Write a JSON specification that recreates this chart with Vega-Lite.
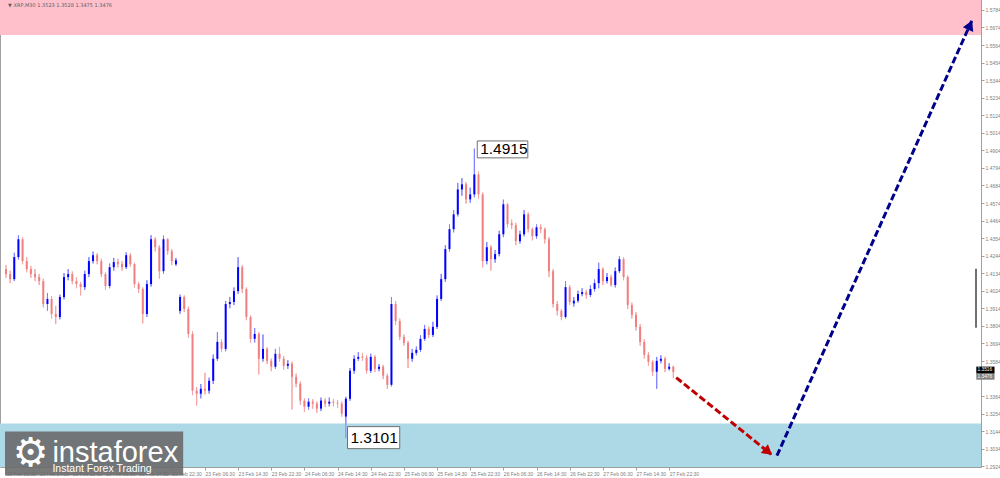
{
"$schema":"https://vega.github.io/schema/vega-lite/v6.json",
"width":981,"height":467,"padding":0,"autosize":{"type":"pad"},"background":"white",
"config":{"view":{"stroke":"#a0a0a0","strokeWidth":1},"font":"Liberation Sans","axis":{"grid":false,"title":null,"labelOverlap":false}},
"datasets":{"candles":[
{"i":0,"o":1.4160,"h":1.4185,"l":1.4105,"c":1.4129},
{"i":1,"o":1.4129,"h":1.4150,"l":1.4072,"c":1.4097},
{"i":2,"o":1.4097,"h":1.4262,"l":1.4085,"c":1.4235},
{"i":3,"o":1.4235,"h":1.4372,"l":1.4220,"c":1.4347},
{"i":4,"o":1.4347,"h":1.4360,"l":1.4190,"c":1.4210},
{"i":5,"o":1.4210,"h":1.4235,"l":1.4140,"c":1.4160},
{"i":6,"o":1.4160,"h":1.4180,"l":1.4105,"c":1.4129},
{"i":7,"o":1.4129,"h":1.4160,"l":1.4085,"c":1.4110},
{"i":8,"o":1.4110,"h":1.4130,"l":1.4060,"c":1.4085},
{"i":9,"o":1.4085,"h":1.4100,"l":1.3920,"c":1.3941},
{"i":10,"o":1.3941,"h":1.4010,"l":1.3900,"c":1.3973},
{"i":11,"o":1.3973,"h":1.3990,"l":1.3850,"c":1.3879},
{"i":12,"o":1.3879,"h":1.3930,"l":1.3815,"c":1.3860},
{"i":13,"o":1.3860,"h":1.4000,"l":1.3845,"c":1.3985},
{"i":14,"o":1.3985,"h":1.4135,"l":1.3970,"c":1.4110},
{"i":15,"o":1.4110,"h":1.4160,"l":1.4090,"c":1.4129},
{"i":16,"o":1.4129,"h":1.4145,"l":1.4065,"c":1.4085},
{"i":17,"o":1.4085,"h":1.4110,"l":1.4040,"c":1.4066},
{"i":18,"o":1.4066,"h":1.4080,"l":1.3995,"c":1.4047},
{"i":19,"o":1.4047,"h":1.4150,"l":1.4030,"c":1.4129},
{"i":20,"o":1.4129,"h":1.4235,"l":1.4110,"c":1.4210},
{"i":21,"o":1.4210,"h":1.4270,"l":1.4195,"c":1.4247},
{"i":22,"o":1.4247,"h":1.4260,"l":1.4190,"c":1.4210},
{"i":23,"o":1.4210,"h":1.4225,"l":1.4110,"c":1.4129},
{"i":24,"o":1.4129,"h":1.4140,"l":1.4030,"c":1.4054},
{"i":25,"o":1.4054,"h":1.4195,"l":1.4040,"c":1.4172},
{"i":26,"o":1.4172,"h":1.4230,"l":1.4150,"c":1.4204},
{"i":27,"o":1.4204,"h":1.4225,"l":1.4170,"c":1.4191},
{"i":28,"o":1.4191,"h":1.4210,"l":1.4150,"c":1.4172},
{"i":29,"o":1.4172,"h":1.4265,"l":1.4160,"c":1.4247},
{"i":30,"o":1.4247,"h":1.4260,"l":1.4175,"c":1.4191},
{"i":31,"o":1.4191,"h":1.4200,"l":1.4045,"c":1.4066},
{"i":32,"o":1.4066,"h":1.4080,"l":1.4010,"c":1.4035},
{"i":33,"o":1.4035,"h":1.4045,"l":1.3820,"c":1.3879},
{"i":34,"o":1.3879,"h":1.4090,"l":1.3860,"c":1.4066},
{"i":35,"o":1.4066,"h":1.4372,"l":1.4050,"c":1.4347},
{"i":36,"o":1.4347,"h":1.4360,"l":1.4270,"c":1.4297},
{"i":37,"o":1.4297,"h":1.4310,"l":1.4100,"c":1.4147},
{"i":38,"o":1.4147,"h":1.4370,"l":1.4130,"c":1.4347},
{"i":39,"o":1.4347,"h":1.4355,"l":1.4250,"c":1.4272},
{"i":40,"o":1.4272,"h":1.4285,"l":1.4185,"c":1.4210},
{"i":41,"o":1.4190,"h":1.4230,"l":1.4180,"c":1.4215},
{"i":42,"o":1.3898,"h":1.4000,"l":1.3880,"c":1.3985},
{"i":43,"o":1.3985,"h":1.3995,"l":1.3890,"c":1.3910},
{"i":44,"o":1.3910,"h":1.3925,"l":1.3730,"c":1.3754},
{"i":45,"o":1.3754,"h":1.3770,"l":1.3370,"c":1.3398},
{"i":46,"o":1.3398,"h":1.3420,"l":1.3305,"c":1.3379},
{"i":47,"o":1.3379,"h":1.3440,"l":1.3350,"c":1.3410},
{"i":48,"o":1.3410,"h":1.3510,"l":1.3375,"c":1.3398},
{"i":49,"o":1.3398,"h":1.3480,"l":1.3380,"c":1.3460},
{"i":50,"o":1.3460,"h":1.3625,"l":1.3440,"c":1.3598},
{"i":51,"o":1.3598,"h":1.3765,"l":1.3585,"c":1.3704},
{"i":52,"o":1.3704,"h":1.3720,"l":1.3640,"c":1.3660},
{"i":53,"o":1.3660,"h":1.3960,"l":1.3645,"c":1.3941},
{"i":54,"o":1.3941,"h":1.3985,"l":1.3915,"c":1.3954},
{"i":55,"o":1.3954,"h":1.4045,"l":1.3935,"c":1.4022},
{"i":56,"o":1.4022,"h":1.4235,"l":1.4005,"c":1.4172},
{"i":57,"o":1.4172,"h":1.4185,"l":1.4010,"c":1.4035},
{"i":58,"o":1.4035,"h":1.4045,"l":1.3840,"c":1.3860},
{"i":59,"o":1.3860,"h":1.3870,"l":1.3700,"c":1.3723},
{"i":60,"o":1.3723,"h":1.3790,"l":1.3700,"c":1.3754},
{"i":61,"o":1.3754,"h":1.3765,"l":1.3500,"c":1.3598},
{"i":62,"o":1.3598,"h":1.3750,"l":1.3580,"c":1.3660},
{"i":63,"o":1.3660,"h":1.3670,"l":1.3565,"c":1.3585},
{"i":64,"o":1.3585,"h":1.3600,"l":1.3520,"c":1.3548},
{"i":65,"o":1.3548,"h":1.3660,"l":1.3535,"c":1.3629},
{"i":66,"o":1.3629,"h":1.3673,"l":1.3580,"c":1.3598},
{"i":67,"o":1.3598,"h":1.3615,"l":1.3530,"c":1.3554},
{"i":68,"o":1.3554,"h":1.3590,"l":1.3535,"c":1.3567},
{"i":69,"o":1.3567,"h":1.3580,"l":1.3280,"c":1.3485},
{"i":70,"o":1.3485,"h":1.3505,"l":1.3420,"c":1.3442},
{"i":71,"o":1.3442,"h":1.3455,"l":1.3310,"c":1.3336},
{"i":72,"o":1.3336,"h":1.3350,"l":1.3265,"c":1.3298},
{"i":73,"o":1.3298,"h":1.3350,"l":1.3280,"c":1.3329},
{"i":74,"o":1.3329,"h":1.3345,"l":1.3285,"c":1.3317},
{"i":75,"o":1.3317,"h":1.3330,"l":1.3260,"c":1.3286},
{"i":76,"o":1.3286,"h":1.3355,"l":1.3270,"c":1.3336},
{"i":77,"o":1.3336,"h":1.3350,"l":1.3295,"c":1.3317},
{"i":78,"o":1.3317,"h":1.3355,"l":1.3300,"c":1.3329},
{"i":79,"o":1.3329,"h":1.3345,"l":1.3300,"c":1.3323},
{"i":80,"o":1.3323,"h":1.3340,"l":1.3290,"c":1.3317},
{"i":81,"o":1.3317,"h":1.3330,"l":1.3235,"c":1.3254},
{"i":82,"o":1.3236,"h":1.3360,"l":1.3101,"c":1.3348},
{"i":83,"o":1.3348,"h":1.3540,"l":1.3335,"c":1.3523},
{"i":84,"o":1.3523,"h":1.3620,"l":1.3505,"c":1.3598},
{"i":85,"o":1.3598,"h":1.3640,"l":1.3585,"c":1.3610},
{"i":86,"o":1.3612,"h":1.3635,"l":1.3585,"c":1.3605},
{"i":87,"o":1.3605,"h":1.3620,"l":1.3505,"c":1.3523},
{"i":88,"o":1.3523,"h":1.3630,"l":1.3510,"c":1.3610},
{"i":89,"o":1.3610,"h":1.3620,"l":1.3515,"c":1.3535},
{"i":90,"o":1.3535,"h":1.3565,"l":1.3520,"c":1.3548},
{"i":91,"o":1.3548,"h":1.3560,"l":1.3470,"c":1.3492},
{"i":92,"o":1.3492,"h":1.3505,"l":1.3410,"c":1.3435},
{"i":93,"o":1.3435,"h":1.3985,"l":1.3425,"c":1.3941},
{"i":94,"o":1.3941,"h":1.3960,"l":1.3810,"c":1.3835},
{"i":95,"o":1.3835,"h":1.3850,"l":1.3715,"c":1.3735},
{"i":96,"o":1.3735,"h":1.3750,"l":1.3680,"c":1.3698},
{"i":97,"o":1.3698,"h":1.3710,"l":1.3540,"c":1.3598},
{"i":98,"o":1.3598,"h":1.3660,"l":1.3580,"c":1.3635},
{"i":99,"o":1.3635,"h":1.3675,"l":1.3620,"c":1.3654},
{"i":100,"o":1.3654,"h":1.3745,"l":1.3640,"c":1.3723},
{"i":101,"o":1.3723,"h":1.3810,"l":1.3710,"c":1.3785},
{"i":102,"o":1.3785,"h":1.3800,"l":1.3730,"c":1.3748},
{"i":103,"o":1.3748,"h":1.3830,"l":1.3735,"c":1.3798},
{"i":104,"o":1.3798,"h":1.3995,"l":1.3785,"c":1.3973},
{"i":105,"o":1.3973,"h":1.4130,"l":1.3960,"c":1.4097},
{"i":106,"o":1.4097,"h":1.4310,"l":1.4080,"c":1.4285},
{"i":107,"o":1.4285,"h":1.4440,"l":1.4270,"c":1.4410},
{"i":108,"o":1.4410,"h":1.4530,"l":1.4390,"c":1.4503},
{"i":109,"o":1.4503,"h":1.4700,"l":1.4490,"c":1.4659},
{"i":110,"o":1.4659,"h":1.4730,"l":1.4620,"c":1.4691},
{"i":111,"o":1.4691,"h":1.4705,"l":1.4570,"c":1.4597},
{"i":112,"o":1.4597,"h":1.4670,"l":1.4575,"c":1.4628},
{"i":113,"o":1.4628,"h":1.4915,"l":1.4610,"c":1.4753},
{"i":114,"o":1.4753,"h":1.4770,"l":1.4600,"c":1.4628},
{"i":115,"o":1.4628,"h":1.4640,"l":1.4170,"c":1.4210},
{"i":116,"o":1.4210,"h":1.4330,"l":1.4190,"c":1.4297},
{"i":117,"o":1.4297,"h":1.4310,"l":1.4150,"c":1.4222},
{"i":118,"o":1.4222,"h":1.4280,"l":1.4200,"c":1.4254},
{"i":119,"o":1.4254,"h":1.4400,"l":1.4240,"c":1.4378},
{"i":120,"o":1.4378,"h":1.4595,"l":1.4360,"c":1.4566},
{"i":121,"o":1.4566,"h":1.4575,"l":1.4420,"c":1.4441},
{"i":122,"o":1.4448,"h":1.4470,"l":1.4410,"c":1.4435},
{"i":123,"o":1.4435,"h":1.4450,"l":1.4310,"c":1.4335},
{"i":124,"o":1.4335,"h":1.4400,"l":1.4320,"c":1.4378},
{"i":125,"o":1.4378,"h":1.4530,"l":1.4365,"c":1.4503},
{"i":126,"o":1.4503,"h":1.4515,"l":1.4390,"c":1.4410},
{"i":127,"o":1.4410,"h":1.4420,"l":1.4340,"c":1.4366},
{"i":128,"o":1.4366,"h":1.4440,"l":1.4350,"c":1.4422},
{"i":129,"o":1.4422,"h":1.4440,"l":1.4385,"c":1.4410},
{"i":130,"o":1.4410,"h":1.4420,"l":1.4320,"c":1.4347},
{"i":131,"o":1.4347,"h":1.4360,"l":1.4110,"c":1.4147},
{"i":132,"o":1.4147,"h":1.4160,"l":1.3920,"c":1.3941},
{"i":133,"o":1.3941,"h":1.3960,"l":1.3870,"c":1.3898},
{"i":134,"o":1.3898,"h":1.3910,"l":1.3840,"c":1.3860},
{"i":135,"o":1.3860,"h":1.4085,"l":1.3850,"c":1.4047},
{"i":136,"o":1.4047,"h":1.4060,"l":1.3935,"c":1.3954},
{"i":137,"o":1.3945,"h":1.3985,"l":1.3925,"c":1.3962},
{"i":138,"o":1.3962,"h":1.4025,"l":1.3950,"c":1.4004},
{"i":139,"o":1.4004,"h":1.4040,"l":1.3990,"c":1.4016},
{"i":140,"o":1.4016,"h":1.4030,"l":1.3975,"c":1.3998},
{"i":141,"o":1.3998,"h":1.4060,"l":1.3985,"c":1.4035},
{"i":142,"o":1.4035,"h":1.4095,"l":1.4020,"c":1.4072},
{"i":143,"o":1.4072,"h":1.4200,"l":1.4040,"c":1.4160},
{"i":144,"o":1.4160,"h":1.4170,"l":1.4060,"c":1.4085},
{"i":145,"o":1.4085,"h":1.4135,"l":1.4070,"c":1.4110},
{"i":146,"o":1.4110,"h":1.4125,"l":1.4050,"c":1.4060},
{"i":147,"o":1.4060,"h":1.4170,"l":1.4045,"c":1.4147},
{"i":148,"o":1.4147,"h":1.4240,"l":1.4135,"c":1.4222},
{"i":149,"o":1.4222,"h":1.4235,"l":1.4090,"c":1.4110},
{"i":150,"o":1.4110,"h":1.4120,"l":1.3910,"c":1.3935},
{"i":151,"o":1.3935,"h":1.3950,"l":1.3850,"c":1.3873},
{"i":152,"o":1.3873,"h":1.3890,"l":1.3775,"c":1.3798},
{"i":153,"o":1.3798,"h":1.3815,"l":1.3680,"c":1.3704},
{"i":154,"o":1.3704,"h":1.3720,"l":1.3600,"c":1.3623},
{"i":155,"o":1.3623,"h":1.3640,"l":1.3555,"c":1.3579},
{"i":156,"o":1.3579,"h":1.3590,"l":1.3490,"c":1.3517},
{"i":157,"o":1.3517,"h":1.3610,"l":1.3410,"c":1.3585},
{"i":158,"o":1.3585,"h":1.3620,"l":1.3570,"c":1.3598},
{"i":159,"o":1.3598,"h":1.3610,"l":1.3515,"c":1.3535},
{"i":160,"o":1.3535,"h":1.3570,"l":1.3525,"c":1.3548},
{"i":161,"o":1.3548,"h":1.3555,"l":1.3476,"c":1.3516}
]},
"layer":[
{"data":{"name":"candles"},"mark":{"type":"rule","strokeWidth":1},
 "encoding":{
  "x":{"field":"i","type":"quantitative","title":null,"scale":{"domain":[-0.24,234.03],"nice":false,"zero":false},
   "axis":{"orient":"bottom","tickCount":40,"values":[0,8,16,24,32,40,48,56,64,72,80,88,96,104,112,120,128,136,144,152,160],
    "labelExpr":"['19 Feb 06:30','19 Feb 14:30','19 Feb 22:30','20 Feb 06:30','20 Feb 14:30','20 Feb 22:30','23 Feb 06:30','23 Feb 14:30','23 Feb 22:30','24 Feb 06:30','24 Feb 14:30','24 Feb 22:30','25 Feb 06:30','25 Feb 14:30','25 Feb 22:30','26 Feb 06:30','26 Feb 14:30','26 Feb 22:30','27 Feb 06:30','27 Feb 14:30','27 Feb 22:30'][round(datum.value/8)]",
    "labelAlign":"left","labelFontSize":5,"labelColor":"#808080","labelPadding":1,"tickSize":3,"tickColor":"#a0a0a0","domain":false,"grid":false,"labelOverlap":false,"labelFlush":false,"labelBound":false}},
  "y":{"field":"l","type":"quantitative","title":null,"scale":{"domain":[1.292,1.5846],"nice":false,"zero":false},
   "axis":{"orient":"right","tickCount":40,"values":[1.2924,1.3034,1.3144,1.3254,1.3364,1.3584,1.3694,1.3804,1.3914,1.4024,1.4134,1.4244,1.4354,1.4464,1.4574,1.4684,1.4794,1.4904,1.5014,1.5124,1.5234,1.5344,1.5454,1.5564,1.5674,1.5784],
    "format":".4f","labelFontSize":5,"labelColor":"#808080","labelPadding":1,"tickSize":3,"tickColor":"#a0a0a0","domainColor":"#a0a0a0","grid":false,"labelOverlap":false,"labelFlush":false,"labelBound":false,"labelBaseline":"middle"}},
  "y2":{"field":"h"},
  "color":{"condition":{"test":"datum.c >= datum.o","value":"#8080ff"},"value":"#f4a4a4"}}},
{"data":{"values":[{"p1":1.5627,"p2":1.5846}]},"mark":{"type":"rect","color":"#ffc0cb"},
 "encoding":{"y":{"field":"p1","type":"quantitative","title":null},"y2":{"field":"p2"}}},
{"data":{"values":[{"p1":1.292,"p2":1.3192}]},"mark":{"type":"rect","color":"#add8e6"},
 "encoding":{"y":{"field":"p1","type":"quantitative","title":null},"y2":{"field":"p2"}}},
{"data":{"name":"candles"},"mark":{"type":"rule","strokeWidth":1},
 "encoding":{
  "x":{"field":"i","type":"quantitative","title":null},
  "y":{"field":"l","type":"quantitative","title":null},
  "y2":{"field":"h"},
  "color":{"condition":{"test":"datum.c >= datum.o","value":"#8080ff"},"value":"#f4a4a4"}}},
{"data":{"name":"candles"},"mark":{"type":"bar","size":2},
 "encoding":{
  "x":{"field":"i","type":"quantitative","title":null},
  "y":{"field":"o","type":"quantitative","title":null},
  "y2":{"field":"c"},
  "color":{"condition":{"test":"datum.c >= datum.o","value":"#0000ff"},"value":"#f08080"}}},
{"data":{"values":[
  {"arrow":"down","k":0,"i":161.7,"p":1.3480},{"arrow":"down","k":1,"i":184.6,"p":1.3000},
  {"arrow":"up","k":0,"i":186.0,"p":1.2991},{"arrow":"up","k":1,"i":233.0,"p":1.5715}]},
 "mark":{"type":"line","strokeWidth":3,"strokeDash":[7,3]},
 "encoding":{
  "x":{"field":"i","type":"quantitative","title":null},
  "y":{"field":"p","type":"quantitative","title":null},
  "color":{"field":"arrow","type":"nominal","scale":{"domain":["down","up"],"range":["#c00000","#00008b"]},"legend":null},
  "order":{"field":"k","type":"quantitative"}}},
{"data":{"values":[{"i":183.9,"p":1.3016}]},"mark":{"type":"point","shape":"triangle-up","filled":true,"opacity":1,"size":130,"angle":128.5,"color":"#c00000"},
 "encoding":{"x":{"field":"i","type":"quantitative","title":null},"y":{"field":"p","type":"quantitative","title":null}}},
{"data":{"values":[{"i":232.6,"p":1.5689}]},"mark":{"type":"point","shape":"triangle-up","filled":true,"opacity":1,"size":130,"angle":24.3,"color":"#00008b"},
 "encoding":{"x":{"field":"i","type":"quantitative","title":null},"y":{"field":"p","type":"quantitative","title":null}}},
{"data":{"values":[{"i1":113.7,"i2":125.9,"p1":1.4963,"p2":1.4857},{"i1":82.4,"i2":95.0,"p1":1.3173,"p2":1.3035}]},
 "mark":{"type":"rect","fill":"white","stroke":"#707070","strokeWidth":1},
 "encoding":{
  "x":{"field":"i1","type":"quantitative","title":null},"x2":{"field":"i2"},
  "y":{"field":"p1","type":"quantitative","title":null},"y2":{"field":"p2"}}},
{"data":{"values":[{"i":114.4,"p":1.4912,"t":"1.4915"},{"i":83.1,"p":1.3104,"t":"1.3101"}]},
 "mark":{"type":"text","align":"left","baseline":"middle","fontSize":15.5,"color":"black","font":"Liberation Sans"},
 "encoding":{
  "x":{"field":"i","type":"quantitative","title":null},
  "y":{"field":"p","type":"quantitative","title":null},
  "text":{"field":"t"}}},
{"data":{"values":[{"i1":234.1,"i2":238.5,"p1":1.3549,"p2":1.3505,"f":"#000000"},{"i1":234.1,"i2":238.5,"p1":1.3504,"p2":1.3467,"f":"#808080"}]},
 "mark":{"type":"rect"},
 "encoding":{
  "x":{"field":"i1","type":"quantitative","title":null},"x2":{"field":"i2"},
  "y":{"field":"p1","type":"quantitative","title":null},"y2":{"field":"p2"},
  "fill":{"field":"f","type":"nominal","scale":null}}},
{"data":{"values":[{"i":234.4,"p":1.3527,"t":"1.3516"},{"i":234.4,"p":1.3486,"t":"1.3476"}]},
 "mark":{"type":"text","align":"left","baseline":"middle","fontSize":4.8,"color":"white","font":"Liberation Sans"},
 "encoding":{
  "x":{"field":"i","type":"quantitative","title":null},
  "y":{"field":"p","type":"quantitative","title":null},
  "text":{"field":"t"}}},
{"data":{"values":[{"i":234.03,"p1":1.4162,"p2":1.3793}]},"mark":{"type":"rule","strokeWidth":2,"color":"#707070"},
 "encoding":{
  "x":{"field":"i","type":"quantitative","title":null},
  "y":{"field":"p1","type":"quantitative","title":null},"y2":{"field":"p2"}}},
{"data":{"values":[{"i":0.5,"p":1.5812,"t":"▼ XRP,M30  1.3523 1.3528 1.3475 1.3476"}]},
 "mark":{"type":"text","align":"left","baseline":"middle","fontSize":5,"color":"#606060","font":"DejaVu Sans"},
 "encoding":{
  "x":{"field":"i","type":"quantitative","title":null},
  "y":{"field":"p","type":"quantitative","title":null},
  "text":{"field":"t"}}},
{"data":{"values":[{"i1":-0.24,"i2":42.75,"p1":1.3142,"p2":1.2866}]},"mark":{"type":"rect","color":"#6a6a6a","opacity":0.9},
 "encoding":{
  "x":{"field":"i1","type":"quantitative","title":null},"x2":{"field":"i2"},
  "y":{"field":"p1","type":"quantitative","title":null},"y2":{"field":"p2"}}},
{"data":{"values":[{"i":5.97,"p":1.3004,"t":"⚙"}]},
 "mark":{"type":"text","color":"white","align":"center","baseline":"middle","fontSize":40,"font":"DejaVu Sans"},
 "encoding":{"x":{"field":"i","type":"quantitative","title":null},"y":{"field":"p","type":"quantitative","title":null},"text":{"field":"t"}}},
{"data":{"values":[{"i":11.2,"p":1.2954,"t":"instaforex"}]},
 "mark":{"type":"text","color":"white","align":"left","baseline":"alphabetic","fontSize":29,"font":"Liberation Sans"},
 "encoding":{"x":{"field":"i","type":"quantitative","title":null},"y":{"field":"p","type":"quantitative","title":null},"text":{"field":"t"}}},
{"data":{"values":[{"i":11.2,"p":1.2888,"t":"Instant Forex Trading"}]},
 "mark":{"type":"text","color":"white","align":"left","baseline":"alphabetic","fontSize":10.5,"font":"Liberation Sans"},
 "encoding":{"x":{"field":"i","type":"quantitative","title":null},"y":{"field":"p","type":"quantitative","title":null},"text":{"field":"t"}}}
]
}
